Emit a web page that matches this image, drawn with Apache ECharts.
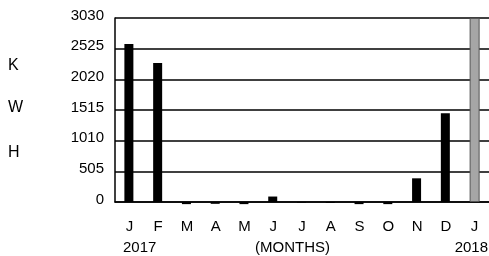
<!DOCTYPE html>
<html>
<head>
<meta charset="utf-8">
<script src="https://cdn.jsdelivr.net/npm/echarts@6/dist/echarts.min.js"></script>
<style>
html,body{margin:0;padding:0;background:#fff;}
#main{width:489px;height:256px;}
</style>
</head>
<body>
<div id="main"></div>
<script>
var months = ['J','F','M','A','M','J','J','A','S','O','N','D','J'];
var kwh = [2600, 2290, -35, -30, -35, 90, -10, -15, -35, -35, 390, 1460, null];
var marker = [null, null, null, null, null, null, null, null, null, null, null, null, 3030];
var yTicks = [0, 505, 1010, 1515, 2020, 2525, 3030];
var unitLetters = ['K', 'W', 'H'];

var dom = document.getElementById('main');
var myChart = echarts.init(dom);
var font = 'Liberation Sans, Arial, sans-serif';

var graphics = [];
var letterY = [66, 108, 153];
for (var i = 0; i < unitLetters.length; i++) {
    graphics.push({
        type: 'text', left: 8, top: letterY[i] - 8,
        style: {text: unitLetters[i], font: '16px ' + font, fill: '#000'}
    });
}
graphics.push({type: 'text', left: 123, top: 240, style: {text: '2017', font: '15px ' + font, fill: '#000'}});
graphics.push({type: 'text', left: 255, top: 240, style: {text: '(MONTHS)', font: '15px ' + font, fill: '#000'}});
graphics.push({type: 'text', right: 1, top: 240, style: {text: '2018', font: '15px ' + font, fill: '#000'}});

option = {
    animation: false,
    grid: {left: 115, top: 18, right: 0, bottom: 54},
    xAxis: {
        type: 'category',
        data: months,
        axisLine: {lineStyle: {color: '#000', width: 1.5}},
        axisTick: {show: false},
        axisLabel: {color: '#000', fontSize: 15, fontFamily: font, margin: 17}
    },
    yAxis: {
        type: 'value',
        min: 0,
        max: 3030,
        interval: 505,
        axisLine: {show: true, lineStyle: {color: '#000', width: 1.5}},
        axisTick: {show: false},
        splitLine: {lineStyle: {color: '#000', width: 1.5}},
        axisLabel: {color: '#000', fontSize: 15, fontFamily: font, margin: 11,
            verticalAlign: 'bottom', padding: [0, 0, -5, 0],
            formatter: function (v) { return yTicks.indexOf(v) >= 0 ? String(v) : ''; }}
    },
    series: [{
        type: 'bar',
        data: kwh,
        barWidth: 9,
        clip: false,
        itemStyle: {color: '#000'}
    }, {
        type: 'bar',
        data: marker,
        barWidth: 10,
        barGap: '-100%',
        itemStyle: {color: '#a6a6a6', borderColor: '#555', borderWidth: 1}
    }],
    graphic: graphics
};
if (option && typeof option == "object") {
    myChart.setOption(option, true);
}
</script>
</body>
</html>
